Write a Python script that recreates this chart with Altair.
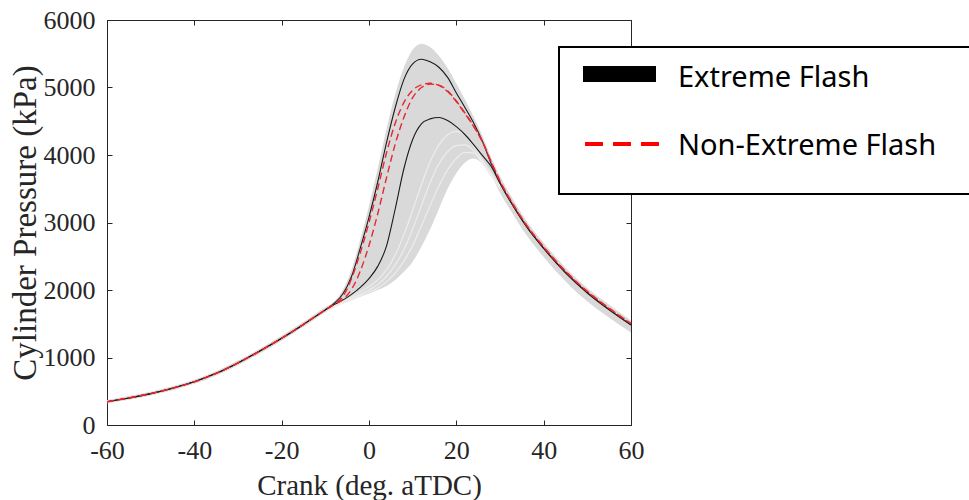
import altair as alt
import pandas as pd

# ---------------- data ----------------
# common compression part (all cycles overlap)
A_COMP = [-60, -55, -50, -45, -40, -35, -30, -25, -20, -15, -12, -10]
P_COMP = [345, 400, 465, 545, 640, 765, 920, 1095, 1285, 1490, 1620, 1705]
UE_COMP = [370, 428, 494, 575, 672, 798, 955, 1130, 1322, 1528, 1660, 1745]
LE_COMP = [322, 374, 438, 516, 610, 733, 887, 1060, 1250, 1455, 1585, 1668]

# combustion / expansion part
A_LATE = [-8, -6, -4, -2, 0, 2, 4, 6, 8, 10, 12, 14, 16, 18, 20, 22, 24, 26,
          28, 30, 33, 36, 40, 45, 50, 55, 60]

# extreme flash cycles (black)
EF_HIGH = [1800, 1940, 2200, 2620, 3080, 3600, 4180, 4700, 5120, 5350, 5418, 5380,
           5300, 5150, 4920, 4700, 4470, 4200, 3870, 3590, 3250, 2950, 2620, 2260,
           1960, 1710, 1485]
EF_LOW = [1785, 1850, 1935, 2040, 2170, 2350, 2650, 3200, 3800, 4230, 4460, 4535,
          4555, 4510, 4420, 4300, 4150, 3990, 3830, 3580, 3245, 2945, 2615, 2255,
          1955, 1705, 1480]
# non-extreme flash cycles (red dashed)
NEF_A = [1790, 1900, 2170, 2550, 3000, 3500, 4030, 4470, 4780, 4960, 5040, 5062,
         5030, 4940, 4790, 4610, 4420, 4190, 3890, 3610, 3265, 2965, 2635, 2275,
         1975, 1725, 1500]
NEF_B = [1780, 1860, 2010, 2280, 2660, 3130, 3660, 4160, 4560, 4850, 5000, 5050,
         5035, 4950, 4800, 4620, 4425, 4195, 3895, 3615, 3270, 2970, 2640, 2280,
         1980, 1730, 1505]

# envelope of all other cycles (grey)
UE_LATE = [1830, 2000, 2300, 2750, 3250, 3800, 4380, 4900, 5300, 5560, 5650, 5600,
           5470, 5290, 5060, 4820, 4560, 4280, 3960, 3690, 3340, 3030, 2700, 2330,
           2030, 1780, 1550]
LE_LATE = [1740, 1800, 1850, 1900, 1950, 2000, 2060, 2150, 2270, 2420, 2640, 2900,
           3200, 3500, 3730, 3890, 3950, 3870, 3700, 3440, 3120, 2820, 2490, 2130,
           1830, 1590, 1370]

# lighter gaps between the grey traces
A_GAP = [-10, -8, -6, -4, -2, 0, 2, 4, 6, 8, 10, 12, 14, 16, 18, 20, 22, 24, 26, 28, 30]
GAP_1 = [1700, 1765, 1830, 1900, 1970, 2050, 2150, 2300, 2520, 2820, 3180, 3560,
         3900, 4150, 4300, 4350, 4290, 4130, 3920, 3720, 3540]
GAP_2 = [1695, 1755, 1815, 1875, 1935, 2000, 2080, 2200, 2370, 2600, 2900, 3250,
         3590, 3870, 4050, 4140, 4150, 4060, 3870, 3690, 3510]
GAP_3 = [1690, 1748, 1808, 1862, 1915, 1970, 2030, 2120, 2250, 2430, 2660, 2950,
         3250, 3540, 3780, 3950, 4040, 4030, 3900, 3720, 3500]

X_TICKS = [-60, -40, -20, 0, 20, 40, 60]
Y_TICKS = [0, 1000, 2000, 3000, 4000, 5000, 6000]
X_TITLE = "Crank (deg. aTDC)"
Y_TITLE = "Cylinder Pressure (kPa)"
LEGEND_LABELS = ["Extreme Flash", "Non-Extreme Flash"]

# ---------------- tables ----------------
band_df = pd.DataFrame({"angle": A_COMP + A_LATE,
                        "hi": UE_COMP + UE_LATE,
                        "lo": LE_COMP + LE_LATE})


def series(name, late):
    return pd.DataFrame({"angle": A_COMP + A_LATE, "p": P_COMP + late, "cycle": name})


black_df = pd.concat([series("ef1", EF_HIGH), series("ef2", EF_LOW)])
red_df = pd.concat([series("nef1", NEF_A), series("nef2", NEF_B)])
gap_df = pd.concat([pd.DataFrame({"angle": A_GAP, "p": g, "cycle": f"g{i}"})
                    for i, g in enumerate([GAP_1, GAP_2, GAP_3])])
one = pd.DataFrame({"k": [0]})

AX = "#262626"
SERIF = "Liberation Serif"
xs = alt.Scale(domain=[-60, 60], nice=False, zero=False)
ys = alt.Scale(domain=[0, 6000], nice=False, zero=False)

common = dict(grid=False, zindex=0, domainColor=AX, tickColor=AX, domainWidth=1, tickWidth=1)

# bottom/left: frame line, labels and titles
ax_b = alt.Axis(orient="bottom", values=X_TICKS, ticks=False, domain=True, title=X_TITLE,
                labelExpr="datum.value + ''", labelFlush=False, labelOverlap=False,
                labelFont=SERIF, labelFontSize=26, labelColor=AX, labelPadding=12,
                titleFont=SERIF, titleFontSize=29, titleFontWeight="normal", titleColor=AX,
                titlePadding=8, **common)
ax_l = alt.Axis(orient="left", values=Y_TICKS, ticks=False, domain=True, title=Y_TITLE,
                labelExpr="datum.value + ''", labelFlush=False, labelOverlap=False,
                labelFont=SERIF, labelFontSize=26, labelColor=AX, labelPadding=12,
                titleFont=SERIF, titleFontSize=33, titleFontWeight="normal", titleColor=AX,
                titlePadding=1, **common)


def tick_axis(orient, vals):
    return alt.Axis(orient=orient, values=vals, ticks=True, tickSize=5, offset=-5,
                    domain=False, labels=False, title=None, **common)


def frame_axis(orient, vals):
    return alt.Axis(orient=orient, values=vals, ticks=False, domain=True,
                    labels=False, title=None, **common)


band = alt.Chart(band_df).mark_area(color="#d9d9d9", interpolate="monotone").encode(
    x=alt.X("angle:Q", scale=xs, axis=ax_b),
    y=alt.Y("hi:Q", scale=ys, axis=ax_l),
    y2="lo:Q",
)

gaps = alt.Chart(gap_df).mark_line(color="#ededed", strokeWidth=1.2, interpolate="monotone").encode(
    x=alt.X("angle:Q", scale=xs, axis=tick_axis("bottom", X_TICKS)),
    y=alt.Y("p:Q", scale=ys, axis=tick_axis("left", Y_TICKS)),
    detail="cycle:N",
)

black = alt.Chart(black_df).mark_line(color="#1a1a1a", strokeWidth=1.1, interpolate="monotone").encode(
    x=alt.X("angle:Q", scale=xs, axis=frame_axis("top", X_TICKS)),
    y=alt.Y("p:Q", scale=ys, axis=frame_axis("right", Y_TICKS)),
    detail="cycle:N",
)

red = alt.Chart(red_df).mark_line(color="#e8262f", strokeWidth=1.4, strokeDash=[7, 4],
                                  interpolate="monotone").encode(
    x=alt.X("angle:Q", scale=xs, axis=tick_axis("top", X_TICKS)),
    y=alt.Y("p:Q", scale=ys, axis=tick_axis("right", Y_TICKS)),
    detail="cycle:N",
)

# legend box (drawn by hand, as in the original figure)
leg_box = alt.Chart(one).mark_rect(fill="white", stroke="black", strokeWidth=2).encode(
    x=alt.value(452), x2=alt.value(900), y=alt.value(27), y2=alt.value(174))
leg_black = alt.Chart(one).mark_rect(fill="black").encode(
    x=alt.value(476), x2=alt.value(549), y=alt.value(46), y2=alt.value(62))
leg_red = alt.Chart(one).mark_rule(color="#ff0000", strokeWidth=4, strokeDash=[18, 10]).encode(
    x=alt.value(478), x2=alt.value(552), y=alt.value(124))
leg_t1 = alt.Chart(one).mark_text(font="Noto Sans", fontSize=29, align="left",
                                  baseline="alphabetic", color="black").encode(
    x=alt.value(571), y=alt.value(67), text=alt.value(LEGEND_LABELS[0]))
leg_t2 = alt.Chart(one).mark_text(font="Noto Sans", fontSize=29, align="left",
                                  baseline="alphabetic", color="black").encode(
    x=alt.value(571), y=alt.value(135), text=alt.value(LEGEND_LABELS[1]))

chart = alt.layer(band, gaps, black, red, leg_box, leg_black, leg_red, leg_t1, leg_t2).resolve_axis(
    x="independent", y="independent"
).properties(
    width=524, height=405,
    autosize=alt.AutoSizeParams(type="none"),
    padding={"left": 107, "top": 20, "right": 338, "bottom": 75},
    background="white",
).configure_view(stroke=None)

chart.save("out.html", embed_options={"renderer": "svg", "actions": False})
